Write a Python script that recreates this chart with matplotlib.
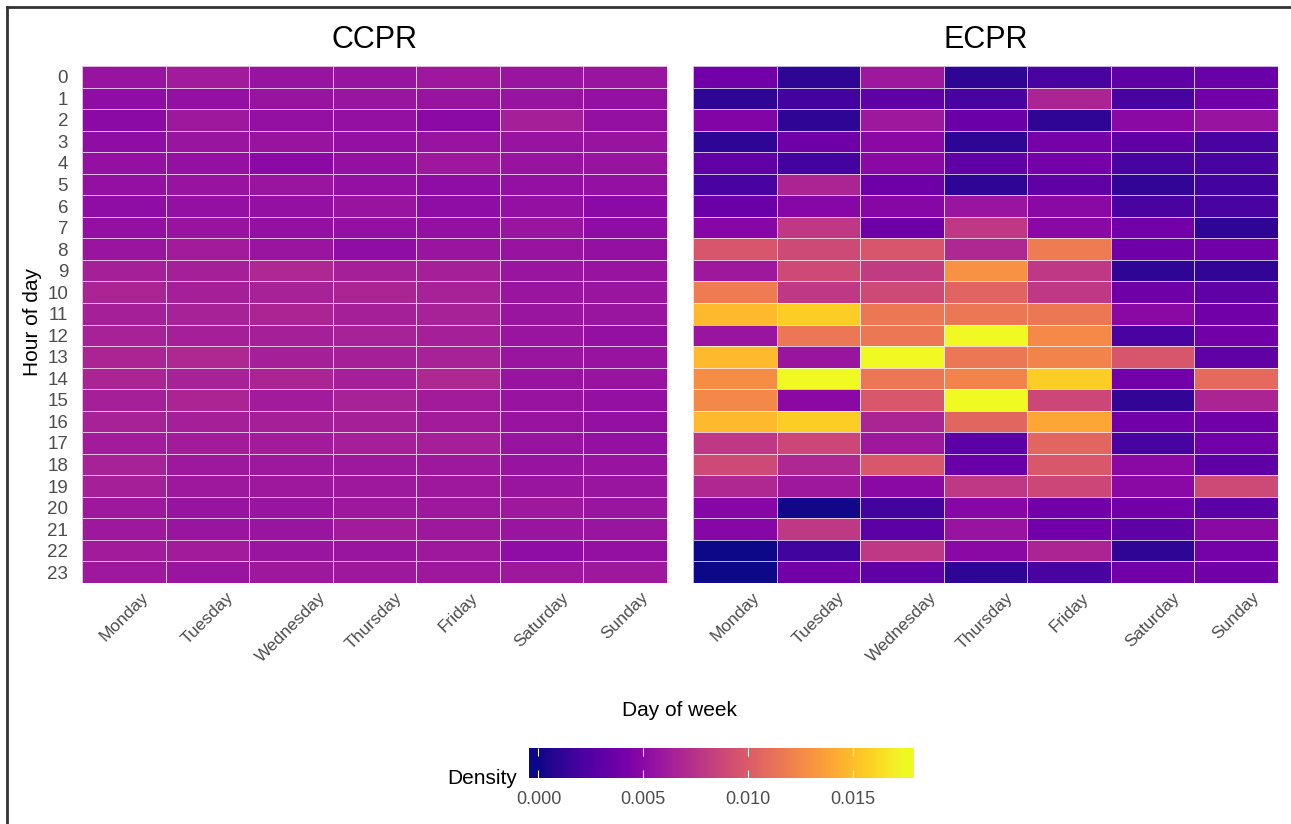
import numpy as np
import matplotlib
matplotlib.use("Agg")
import matplotlib.pyplot as plt
from matplotlib.colors import Normalize
from matplotlib.lines import Line2D

days = ["Monday", "Tuesday", "Wednesday", "Thursday", "Friday", "Saturday", "Sunday"]
hours = list(range(24))

# density per (hour, day), rows = hours 0..23, columns = Monday..Sunday
ccpr_density = [
    [0.0056, 0.0061, 0.0056, 0.0056, 0.0059, 0.0057, 0.0057],
    [0.0052, 0.0054, 0.0056, 0.0057, 0.0056, 0.0056, 0.0054],
    [0.0050, 0.0059, 0.0054, 0.0054, 0.0050, 0.0063, 0.0054],
    [0.0052, 0.0057, 0.0056, 0.0054, 0.0056, 0.0056, 0.0056],
    [0.0054, 0.0054, 0.0050, 0.0054, 0.0059, 0.0056, 0.0056],
    [0.0054, 0.0056, 0.0057, 0.0054, 0.0052, 0.0054, 0.0054],
    [0.0052, 0.0054, 0.0054, 0.0056, 0.0052, 0.0054, 0.0050],
    [0.0054, 0.0056, 0.0054, 0.0054, 0.0054, 0.0057, 0.0052],
    [0.0057, 0.0061, 0.0057, 0.0052, 0.0057, 0.0056, 0.0054],
    [0.0063, 0.0063, 0.0068, 0.0063, 0.0063, 0.0057, 0.0056],
    [0.0066, 0.0063, 0.0064, 0.0066, 0.0064, 0.0057, 0.0057],
    [0.0063, 0.0064, 0.0066, 0.0063, 0.0064, 0.0057, 0.0057],
    [0.0064, 0.0063, 0.0063, 0.0064, 0.0063, 0.0057, 0.0054],
    [0.0066, 0.0068, 0.0063, 0.0063, 0.0064, 0.0057, 0.0056],
    [0.0066, 0.0064, 0.0066, 0.0063, 0.0068, 0.0056, 0.0056],
    [0.0063, 0.0066, 0.0061, 0.0064, 0.0061, 0.0056, 0.0054],
    [0.0064, 0.0063, 0.0063, 0.0063, 0.0061, 0.0056, 0.0054],
    [0.0061, 0.0061, 0.0061, 0.0063, 0.0063, 0.0056, 0.0054],
    [0.0064, 0.0059, 0.0059, 0.0059, 0.0059, 0.0056, 0.0056],
    [0.0063, 0.0059, 0.0059, 0.0059, 0.0059, 0.0057, 0.0057],
    [0.0059, 0.0056, 0.0057, 0.0059, 0.0059, 0.0059, 0.0057],
    [0.0059, 0.0057, 0.0057, 0.0061, 0.0059, 0.0057, 0.0057],
    [0.0061, 0.0061, 0.0057, 0.0057, 0.0059, 0.0052, 0.0054],
    [0.0059, 0.0057, 0.0059, 0.0059, 0.0059, 0.0059, 0.0059],
]

ecpr_density = [
    [0.0038, 0.0010, 0.0059, 0.0010, 0.0021, 0.0030, 0.0035],
    [0.0010, 0.0019, 0.0030, 0.0021, 0.0066, 0.0021, 0.0038],
    [0.0045, 0.0010, 0.0059, 0.0035, 0.0010, 0.0049, 0.0056],
    [0.0010, 0.0037, 0.0049, 0.0010, 0.0040, 0.0030, 0.0021],
    [0.0030, 0.0019, 0.0049, 0.0030, 0.0040, 0.0021, 0.0021],
    [0.0021, 0.0066, 0.0037, 0.0010, 0.0030, 0.0012, 0.0019],
    [0.0035, 0.0047, 0.0047, 0.0057, 0.0049, 0.0021, 0.0021],
    [0.0047, 0.0078, 0.0037, 0.0078, 0.0049, 0.0038, 0.0010],
    [0.0096, 0.0089, 0.0096, 0.0068, 0.0117, 0.0037, 0.0038],
    [0.0059, 0.0089, 0.0080, 0.0129, 0.0078, 0.0010, 0.0012],
    [0.0117, 0.0078, 0.0089, 0.0104, 0.0078, 0.0037, 0.0030],
    [0.0148, 0.0157, 0.0115, 0.0115, 0.0115, 0.0049, 0.0038],
    [0.0057, 0.0115, 0.0115, 0.0174, 0.0125, 0.0021, 0.0038],
    [0.0148, 0.0057, 0.0174, 0.0115, 0.0122, 0.0096, 0.0030],
    [0.0127, 0.0174, 0.0115, 0.0122, 0.0157, 0.0038, 0.0108],
    [0.0124, 0.0049, 0.0097, 0.0174, 0.0087, 0.0012, 0.0066],
    [0.0148, 0.0157, 0.0066, 0.0106, 0.0139, 0.0038, 0.0038],
    [0.0078, 0.0087, 0.0059, 0.0028, 0.0106, 0.0021, 0.0038],
    [0.0089, 0.0068, 0.0097, 0.0035, 0.0097, 0.0049, 0.0030],
    [0.0068, 0.0059, 0.0049, 0.0078, 0.0087, 0.0049, 0.0089],
    [0.0047, 0.0002, 0.0017, 0.0047, 0.0038, 0.0038, 0.0028],
    [0.0047, 0.0078, 0.0028, 0.0056, 0.0038, 0.0030, 0.0049],
    [0.0000, 0.0017, 0.0078, 0.0049, 0.0066, 0.0010, 0.0040],
    [0.0000, 0.0038, 0.0030, 0.0010, 0.0021, 0.0038, 0.0038],
]

cbar_ticks = [0.000, 0.005, 0.010, 0.015]

plt.rcParams["font.family"] = ["Liberation Sans", "DejaVu Sans"]
W, H = 1291, 824
grey = "#4d4d4d"
norm = Normalize(vmin=0.0, vmax=0.0174)

fig = plt.figure(figsize=(W / 100, H / 100), dpi=100)


def panel(x0, data, title, show_y):
    ax = fig.add_axes([x0 / W, 1 - 583 / H, 585 / W, 517 / H])
    ax.pcolormesh(np.arange(len(days) + 1), np.arange(len(hours) + 1), np.array(data),
                  cmap="plasma", norm=norm, edgecolors=(1, 1, 1, 0.7), linewidth=0.6)
    ax.set_xlim(0, len(days))
    ax.set_ylim(len(hours), 0)
    ax.set_xticks(np.arange(len(days)) + 0.5)
    ax.set_xticklabels(days, rotation=45, ha="center", va="top", color=grey, fontsize=12.5)
    ax.set_yticks(np.arange(len(hours)) + 0.5)
    if show_y:
        ax.set_yticklabels([str(h) for h in hours], color=grey, fontsize=13.5)
    else:
        ax.set_yticklabels([])
    ax.tick_params(axis="x", length=0, pad=5)
    ax.tick_params(axis="y", length=0, pad=10)
    for s in ax.spines.values():
        s.set_visible(False)
    ax.set_title(title, fontsize=22, pad=13)
    return ax


panel(82, ccpr_density, "CCPR", True)
panel(693, ecpr_density, "ECPR", False)

fig.text(32 / W, 1 - 322 / H, "Hour of day", rotation=90, ha="center", va="center", fontsize=15)
fig.text(680 / W, 1 - 710 / H, "Day of week", ha="center", va="center", fontsize=15)

# colour bar
cax = fig.add_axes([529 / W, 1 - 778 / H, 384 / W, 30 / H])
lo, hi = -0.00045, 0.01785
grad = np.linspace(lo, hi, 300).reshape(1, -1)
cax.imshow(grad, aspect="auto", cmap="plasma", norm=norm, extent=[lo, hi, 0, 1])
cax.set_xlim(lo, hi)
cax.set_ylim(0, 1)
cax.set_yticks([])
cax.set_xticks(cbar_ticks)
cax.set_xticklabels([f"{t:.3f}" for t in cbar_ticks], fontsize=13, color=grey)
cax.tick_params(axis="x", direction="in", color="white", length=6, width=0.8,
                top=True, pad=9)
for s in cax.spines.values():
    s.set_visible(False)
fig.text(517 / W, 1 - 784 / H, "Density", ha="right", va="baseline", fontsize=15)

# frame lines (left and top)
fig.add_artist(Line2D([7 / W, 7 / W], [0, 1 - 7 / H], color="#333333", lw=2))
fig.add_artist(Line2D([7 / W, 1], [1 - 7 / H, 1 - 7 / H], color="#333333", lw=2))

fig.savefig("out.png", dpi=100)
